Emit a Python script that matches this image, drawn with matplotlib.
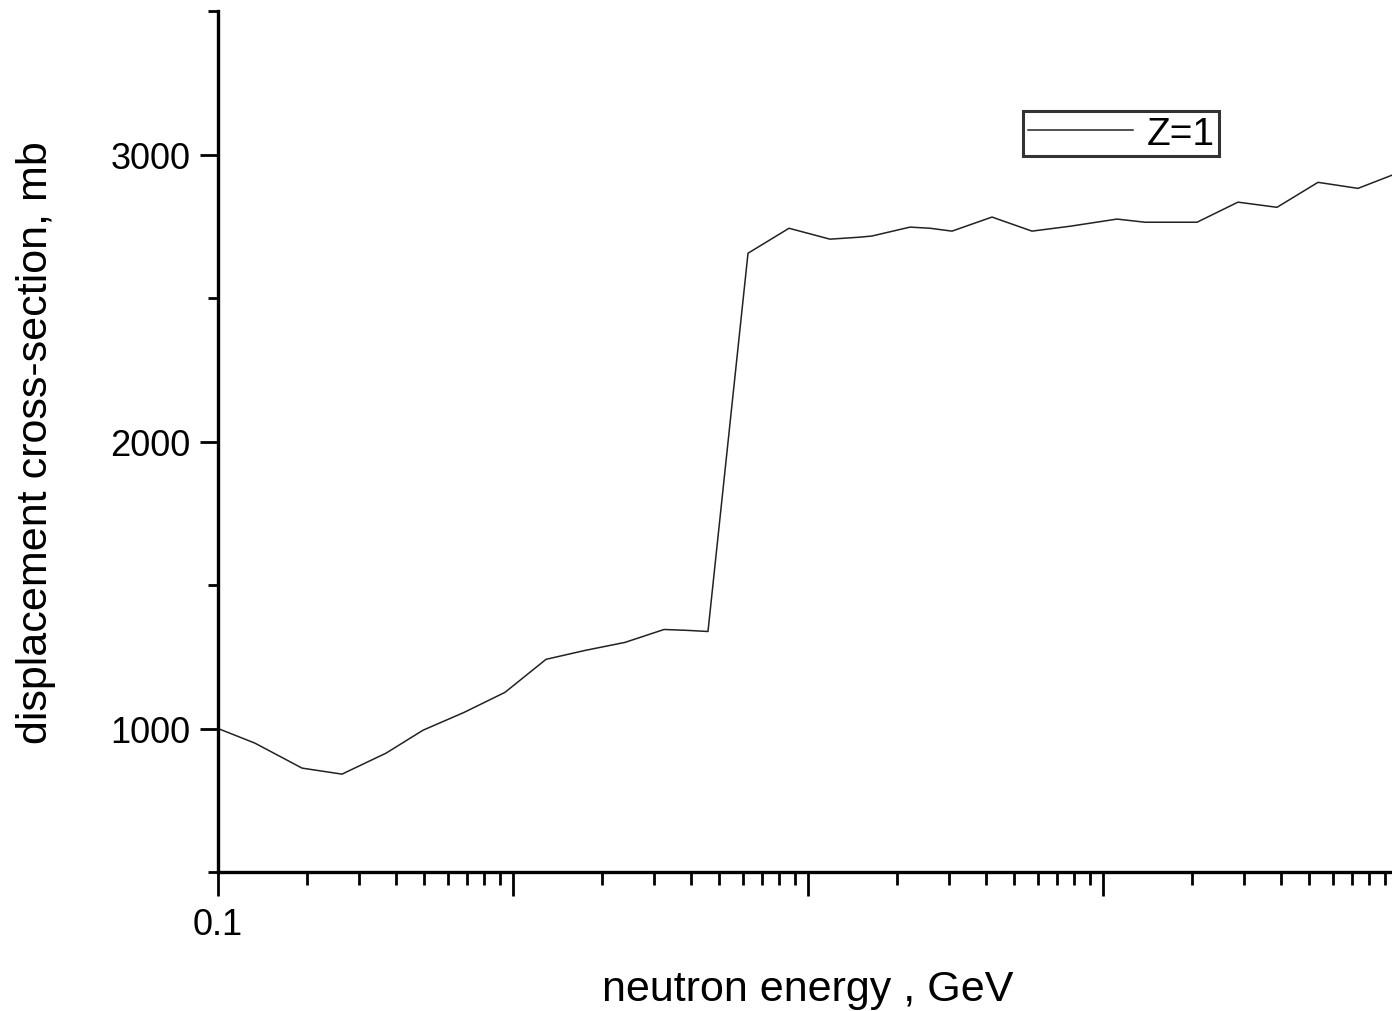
import matplotlib
matplotlib.use("Agg")
import matplotlib.pyplot as plt
from matplotlib.ticker import FixedLocator, FuncFormatter, LogLocator, NullFormatter

plt.rcParams['font.family'] = ['Liberation Sans', 'DejaVu Sans']

# neutron energy (GeV) and displacement cross-section (mb)
energy = [0.100, 0.1334, 0.1927, 0.2632, 0.3711, 0.4953, 0.6823, 0.9395, 1.294,
          1.754, 2.397, 3.250, 3.889, 4.581, 6.261, 8.623, 11.87, 15.01, 16.48,
          22.17, 25.92, 30.77, 42.05, 57.45, 77.29, 111.6, 138.8, 208.3, 286.8,
          388.9, 535.6, 731.9, 954.4]
cross_section = [1000, 949, 862, 841, 914, 994, 1056, 1126, 1241,
                 1272, 1300, 1345, 1342, 1338, 2656, 2743, 2705, 2712, 2716,
                 2747, 2743, 2733, 2782, 2733, 2750, 2775, 2764, 2764, 2834,
                 2816, 2903, 2882, 2928]
series_name = "Z=1"
x_label = "neutron energy , GeV"
y_label = "displacement cross-section, mb"
y_major = [1000, 2000, 3000]
y_minor = [500, 1500, 2500, 3500]
x_labeled = [0.1]

W, H = 1392, 1012
fig = plt.figure(figsize=(W / 100, H / 100), dpi=100)
left, right, bottom, top = 218, 1398, 873, 12
ax = fig.add_axes([left / W, (H - bottom) / H, (right - left) / W, (bottom - top) / H])

ax.plot(energy, cross_section, color='#222222', lw=1.1, label=series_name)
ax.set_xscale('log')
ax.set_xlim(0.1, 1000)
ax.set_ylim(500, 3500)

for s in ['top', 'right']:
    ax.spines[s].set_visible(False)
for s in ['left', 'bottom']:
    ax.spines[s].set_linewidth(2.4)

ax.xaxis.set_major_locator(LogLocator(base=10, numticks=20))
ax.xaxis.set_minor_locator(LogLocator(base=10, subs=range(2, 10), numticks=50))
ax.xaxis.set_major_formatter(FuncFormatter(
    lambda v, p: ('%g' % v) if any(abs(v - t) < 1e-9 for t in x_labeled) else ''))
ax.xaxis.set_minor_formatter(NullFormatter())
ax.yaxis.set_major_locator(FixedLocator(y_major))
ax.yaxis.set_minor_locator(FixedLocator(y_minor))
ax.yaxis.set_major_formatter(FuncFormatter(lambda v, p: '%d' % v))

ax.tick_params(axis='x', which='major', direction='out', length=17, width=2, labelsize=26, pad=8)
ax.tick_params(axis='x', which='minor', direction='out', length=9, width=2)
ax.tick_params(axis='y', which='major', direction='out', length=13, width=2, labelsize=26, pad=7)
ax.tick_params(axis='y', which='minor', direction='out', length=7, width=2)

ax.set_xlabel(x_label, fontsize=31, ha='center', va='center')
ax.xaxis.set_label_coords((808 - left) / (right - left), -(990 - bottom) / (bottom - top))
ax.set_ylabel(y_label, fontsize=31, ha='center', va='center')
ax.yaxis.set_label_coords(-(left - 36) / (right - left), (bottom - 443) / (bottom - top))

leg = ax.legend(loc='upper left', bbox_to_anchor=(1023 / W, 1 - 112 / H),
                bbox_transform=fig.transFigure, fontsize=28, frameon=True,
                fancybox=False, handlelength=2.7, handletextpad=0.35,
                borderpad=0.12, borderaxespad=0)
leg.get_frame().set_edgecolor('black')
leg.get_frame().set_linewidth(2.2)
for line in leg.get_lines():
    line.set_linewidth(1.1)

fig.savefig("out.png", dpi=100)
